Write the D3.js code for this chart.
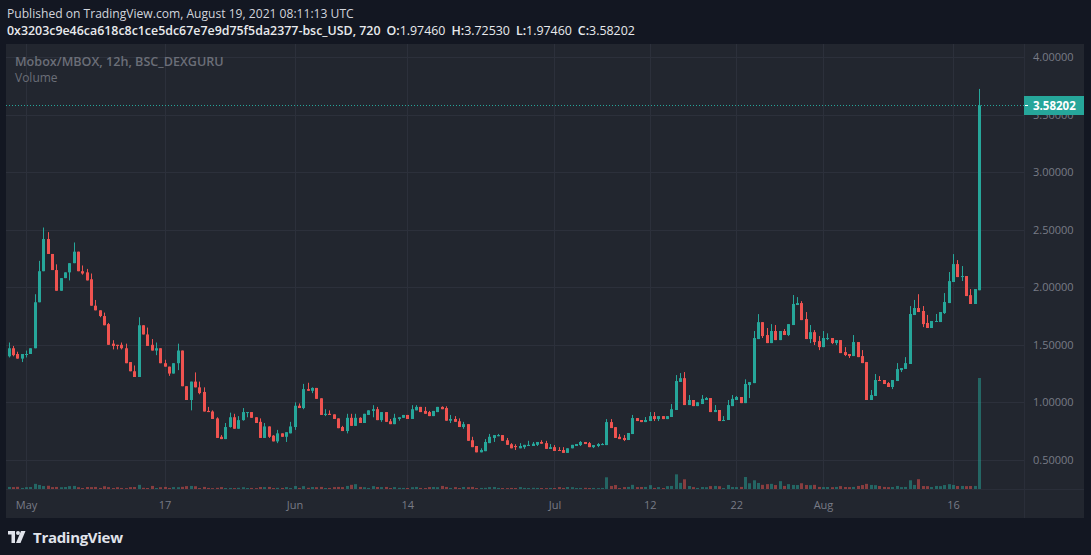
<!DOCTYPE html>
<html lang="en">
<head>
<meta charset="UTF-8">
<title>Mobox/MBOX, 12h</title>
<script src="https://d3js.org/d3.v7.min.js"></script>
<style>
    body { margin: 0; background: #131722; }
    svg { display: block; font-family: "Open Sans", sans-serif; }
    .axis path, .axis line { display: none; }
    .axis text { fill: #787b86; font-size: 11px; font-family: "Open Sans", sans-serif; }
    .grid line { stroke: #2c303b; stroke-width: 1; }
</style>
</head>
<body>
<svg width="1091" height="555"></svg>
<script>
// 12h candles, Apr 29 2021 00:00 UTC .. Aug 19 2021 00:00 UTC
const dates = d3.utcHour.every(12).range(new Date(Date.UTC(2021, 3, 29)), new Date(Date.UTC(2021, 7, 19, 1)));

const open = [
1.40,1.47,1.42,1.38,1.415,1.42,1.47,1.87,2.14,2.42,
2.29,2.15,1.97,2.08,2.13,2.21,2.31,2.14,2.13,2.07,
1.84,1.80,1.75,1.68,1.51,1.50,1.50,1.47,1.35,1.27,
1.22,1.67,1.59,1.50,1.45,1.47,1.34,1.31,1.25,1.34,
1.45,1.14,1.02,1.18,1.13,1.09,0.925,0.92,0.86,0.70,
0.68,0.785,0.87,0.77,0.845,0.91,0.915,0.87,0.83,0.69,
0.79,0.71,0.66,0.73,0.70,0.73,0.785,0.97,0.95,1.115,
1.10,1.125,1.035,0.89,0.90,0.895,0.86,0.785,0.75,0.865,
0.795,0.865,0.82,0.89,0.925,0.94,0.845,0.915,0.835,0.81,
0.855,0.865,0.89,0.855,0.93,0.96,0.925,0.915,0.88,0.915,
0.96,0.95,0.84,0.855,0.835,0.785,0.81,0.67,0.62,0.565,
0.575,0.645,0.69,0.705,0.715,0.67,0.635,0.62,0.60,0.61,
0.62,0.62,0.63,0.655,0.645,0.594,0.61,0.585,0.585,0.56,
0.60,0.62,0.628,0.655,0.645,0.61,0.62,0.628,0.628,0.828,
0.784,0.70,0.69,0.672,0.724,0.863,0.846,0.828,0.837,0.88,
0.854,0.88,0.854,0.872,0.933,1.177,1.21,0.976,1.02,0.967,
0.985,1.02,1.037,0.915,0.933,0.837,0.846,0.967,1.02,1.046,
0.993,1.15,1.167,1.55,1.697,1.585,1.515,1.62,1.541,1.62,
1.585,1.672,1.846,1.863,1.724,1.55,1.61,1.532,1.48,1.55,
1.559,1.515,1.541,1.437,1.42,1.402,1.524,1.402,1.35,1.02,
1.055,1.194,1.194,1.167,1.133,1.185,1.28,1.29,1.333,1.759,
1.82,1.794,1.69,1.646,1.70,1.698,1.776,1.863,2.046,2.202,
2.089,2.098,1.932,1.855,1.9746
];
const high = [
1.52,1.49,1.44,1.42,1.45,1.47,1.94,2.23,2.52,2.48,
2.29,2.20,2.08,2.13,2.21,2.39,2.31,2.19,2.16,2.12,
1.89,1.80,1.78,1.69,1.54,1.50,1.52,1.51,1.35,1.32,
1.74,1.67,1.65,1.55,1.52,1.47,1.37,1.31,1.34,1.51,
1.45,1.14,1.18,1.26,1.18,1.13,0.96,0.93,0.87,0.715,
0.82,0.91,0.90,0.88,0.95,0.915,0.915,0.87,0.86,0.82,
0.79,0.715,0.76,0.73,0.74,0.83,1.00,0.99,1.16,1.17,
1.13,1.125,1.035,0.94,0.93,0.895,0.86,0.795,0.90,0.90,
0.90,0.87,0.90,0.93,0.975,0.96,0.915,0.915,0.855,0.90,
0.87,0.89,0.89,0.975,0.975,0.96,0.96,0.925,0.925,0.96,
0.965,0.965,0.89,0.88,0.86,0.83,0.81,0.70,0.62,0.60,
0.68,0.725,0.715,0.725,0.715,0.69,0.645,0.635,0.645,0.63,
0.665,0.655,0.655,0.67,0.665,0.637,0.628,0.61,0.61,0.60,
0.63,0.637,0.663,0.655,0.655,0.628,0.645,0.645,0.854,0.854,
0.784,0.724,0.715,0.733,0.89,0.863,0.846,0.872,0.915,0.915,
0.88,0.88,0.88,0.985,1.237,1.254,1.263,1.063,1.02,1.003,
1.063,1.046,1.037,0.976,0.933,0.88,1.02,1.063,1.055,1.046,
1.20,1.176,1.62,1.767,1.697,1.646,1.68,1.672,1.62,1.637,
1.68,1.933,1.915,1.88,1.785,1.672,1.628,1.576,1.62,1.60,
1.559,1.541,1.541,1.48,1.42,1.585,1.524,1.454,1.35,1.107,
1.246,1.228,1.194,1.176,1.194,1.341,1.298,1.393,1.837,1.89,
1.94,1.837,1.76,1.707,1.768,1.785,1.95,2.133,2.289,2.237,
2.185,2.098,1.985,1.985,3.7253
];
const low = [
1.39,1.40,1.38,1.35,1.39,1.42,1.47,1.87,2.14,2.29,
2.15,1.97,1.97,2.08,2.06,2.21,2.14,2.11,2.06,1.84,
1.80,1.74,1.67,1.50,1.46,1.46,1.46,1.34,1.27,1.22,
1.22,1.59,1.49,1.45,1.41,1.34,1.31,1.23,1.25,1.28,
1.14,1.02,0.93,1.13,1.07,0.92,0.915,0.855,0.69,0.68,
0.68,0.78,0.77,0.77,0.84,0.87,0.865,0.82,0.69,0.69,
0.69,0.66,0.645,0.70,0.655,0.73,0.76,0.95,0.94,1.10,
1.08,1.03,0.89,0.88,0.89,0.855,0.775,0.75,0.73,0.795,
0.795,0.82,0.82,0.89,0.87,0.845,0.83,0.83,0.81,0.81,
0.84,0.865,0.855,0.855,0.93,0.915,0.90,0.88,0.88,0.915,
0.94,0.84,0.82,0.83,0.785,0.77,0.665,0.61,0.565,0.565,
0.575,0.645,0.655,0.705,0.665,0.63,0.60,0.585,0.60,0.595,
0.62,0.62,0.62,0.64,0.595,0.594,0.577,0.577,0.56,0.56,
0.60,0.62,0.62,0.637,0.61,0.602,0.61,0.628,0.628,0.776,
0.69,0.68,0.663,0.672,0.724,0.837,0.828,0.828,0.837,0.837,
0.837,0.854,0.854,0.872,0.933,1.177,0.976,0.976,0.967,0.967,
0.985,1.02,0.915,0.915,0.837,0.837,0.846,0.967,1.02,0.993,
0.993,1.037,1.167,1.55,1.559,1.515,1.515,1.541,1.541,1.585,
1.576,1.672,1.846,1.715,1.55,1.515,1.498,1.454,1.48,1.541,
1.506,1.498,1.428,1.402,1.385,1.402,1.393,1.341,1.02,1.02,
1.055,1.185,1.159,1.133,1.115,1.185,1.263,1.29,1.333,1.759,
1.785,1.654,1.646,1.646,1.698,1.698,1.768,1.863,2.046,2.089,
2.055,1.924,1.855,1.855,1.9746
];
const close = [
1.47,1.41,1.38,1.42,1.42,1.47,1.87,2.14,2.42,2.29,
2.15,1.97,2.08,2.13,2.21,2.31,2.14,2.12,2.06,1.84,
1.80,1.75,1.67,1.50,1.49,1.49,1.47,1.34,1.27,1.22,
1.67,1.59,1.49,1.45,1.47,1.34,1.31,1.25,1.34,1.45,
1.14,1.02,1.18,1.13,1.08,0.92,0.915,0.855,0.69,0.68,
0.785,0.87,0.77,0.845,0.915,0.915,0.865,0.82,0.69,0.79,
0.70,0.66,0.73,0.70,0.74,0.79,0.97,0.95,1.115,1.10,
1.125,1.03,0.89,0.90,0.89,0.855,0.775,0.75,0.865,0.795,
0.865,0.82,0.90,0.93,0.94,0.845,0.915,0.83,0.81,0.865,
0.87,0.89,0.855,0.94,0.96,0.915,0.90,0.88,0.925,0.96,
0.94,0.84,0.855,0.83,0.785,0.81,0.665,0.61,0.565,0.585,
0.655,0.70,0.715,0.715,0.665,0.63,0.60,0.61,0.62,0.63,
0.63,0.64,0.655,0.64,0.595,0.61,0.577,0.577,0.56,0.60,
0.63,0.637,0.655,0.637,0.61,0.628,0.637,0.637,0.828,0.776,
0.69,0.68,0.672,0.733,0.863,0.837,0.828,0.846,0.88,0.854,
0.88,0.854,0.88,0.94,1.185,1.21,0.976,1.02,0.967,1.00,
1.03,1.037,0.915,0.933,0.837,0.846,0.976,1.03,1.046,0.993,
1.159,1.176,1.559,1.697,1.576,1.515,1.62,1.541,1.62,1.585,
1.68,1.855,1.863,1.715,1.55,1.61,1.524,1.48,1.559,1.559,
1.515,1.541,1.428,1.411,1.402,1.524,1.393,1.341,1.02,1.063,
1.194,1.185,1.159,1.133,1.194,1.289,1.298,1.341,1.768,1.82,
1.785,1.68,1.646,1.707,1.707,1.785,1.872,2.054,2.202,2.089,
2.098,1.924,1.855,1.985,3.58202
];
const volume = [
21,19,22,11,18,20,52,41,30,33,
19,21,18,20,29,31,18,10,20,19,
21,11,28,19,10,18,11,9,19,20,
42,12,10,31,10,18,21,11,19,18,
22,29,31,28,10,21,11,9,12,19,
10,11,9,12,18,10,11,9,20,19,
21,10,12,11,19,10,30,11,29,12,
20,18,21,10,11,19,21,
19,31,42,49,21,18,11,29,20,19,
21,10,19,12,11,10,18,21,11,10,
19,20,18,31,21,11,19,10,20,18,
21,10,11,12,19,20,11,10,9,11,
10,19,11,10,12,11,10,9,11,10,
19,11,20,18,10,11,12,10,11,9,
11,118,31,40,10,19,21,42,19,20,
21,39,11,19,10,29,
31,148,62,98,30,19,11,20,18,29,
31,28,10,41,20,19,21,121,58,88,
61,42,49,52,40,79,31,49,41,40,
58,41,39,42,21,19,20,18,21,29,
20,19,21,31,40,52,41,39,30,21,
19,20,31,19,21,88,41,99,30,29,
20,31,29,40,49,41,30,31,29,30,31,
1120
];

const priceTicks = [0.5, 1.0, 1.5, 2.0, 2.5, 3.0, 3.5, 4.0];
const timeTicks = [
    new Date(Date.UTC(2021, 4, 1)), new Date(Date.UTC(2021, 4, 17)),
    new Date(Date.UTC(2021, 5, 1)), new Date(Date.UTC(2021, 5, 14)),
    new Date(Date.UTC(2021, 6, 1)), new Date(Date.UTC(2021, 6, 12)),
    new Date(Date.UTC(2021, 6, 22)), new Date(Date.UTC(2021, 7, 1)),
    new Date(Date.UTC(2021, 7, 16))
];
const timeLabels = ["May", "17", "Jun", "14", "Jul", "12", "22", "Aug", "16"];

const upColor = "#26a69a", downColor = "#ef5350";

// layout
const panel = { left: 6, top: 44, right: 1084, bottom: 518 };
const plot = { left: 6, top: 44, right: 1024, bottom: 489 };

const svg = d3.select("svg");

// scales
const x = d3.scaleTime()
    .domain([new Date(Date.UTC(2021, 3, 28, 16, 35)), new Date(Date.UTC(2021, 7, 24, 4, 50))])
    .range([plot.left, plot.right]);
const y = d3.scaleLinear().domain([0.246, 4.116]).range([plot.bottom, plot.top]);
const yVol = d3.scaleLinear().domain([0, 1120]).range([plot.bottom, plot.bottom - 111]);

// header
svg.append("text")
    .attr("x", 7).attr("y", 18)
    .attr("font-size", 12.1).attr("fill", "#d1d4dc")
    .text("Published on TradingView.com, August 19, 2021 08:11:13 UTC");

const hdr = svg.append("text")
    .attr("x", 7).attr("y", 35)
    .attr("font-size", 12.4).attr("fill", "#e8eaed");
hdr.append("tspan").attr("font-weight", 600).text("0x3203c9e46ca618c8c1ce5dc67e7e9d75f5da2377-bsc_USD, 720");
[["O:", open[open.length - 1]], ["H:", high[high.length - 1]], ["L:", low[low.length - 1]], ["C:", close[close.length - 1]]]
    .forEach(([k, v]) => {
        hdr.append("tspan").attr("dx", 6).attr("font-weight", 600).text(k);
        hdr.append("tspan").text(d3.format(".5f")(v));
    });

// panel background
svg.append("rect")
    .attr("x", panel.left).attr("y", panel.top)
    .attr("width", panel.right - panel.left).attr("height", panel.bottom - panel.top)
    .attr("fill", "#22262f");

// grid
const grid = svg.append("g").attr("class", "grid");
grid.selectAll(".h").data(priceTicks).enter().append("line")
    .attr("x1", plot.left).attr("x2", plot.right)
    .attr("y1", d => Math.round(y(d)) + 0.5).attr("y2", d => Math.round(y(d)) + 0.5);
grid.selectAll(".v").data(timeTicks).enter().append("line")
    .attr("x1", d => Math.round(x(d)) + 0.5).attr("x2", d => Math.round(x(d)) + 0.5)
    .attr("y1", plot.top).attr("y2", plot.bottom);

// separators
svg.append("line").attr("x1", plot.right + 0.5).attr("x2", plot.right + 0.5)
    .attr("y1", panel.top).attr("y2", panel.bottom).attr("stroke", "#2a2e39");
svg.append("line").attr("x1", panel.left).attr("x2", panel.right)
    .attr("y1", plot.bottom + 0.5).attr("y2", plot.bottom + 0.5).attr("stroke", "#2a2e39");

// legend
svg.append("text").attr("x", 15).attr("y", 66)
    .attr("font-size", 12.6).attr("font-weight", 600).attr("fill", "#6b6e78")
    .text("Mobox/MBOX, 12h, BSC_DEXGURU");
svg.append("text").attr("x", 15).attr("y", 82)
    .attr("font-size", 12).attr("fill", "#6b6e78")
    .text("Volume");

const candles = dates.map((d, i) => ({
    date: d, o: open[i], h: high[i], l: low[i], c: close[i], v: volume[i]
}));

// volume
svg.append("g").selectAll("rect").data(candles).enter().append("rect")
    .attr("x", d => Math.round(x(d.date)) - 1)
    .attr("width", 3)
    .attr("y", d => yVol(d.v))
    .attr("height", d => plot.bottom - yVol(d.v))
    .attr("fill", d => d.c >= d.o ? upColor : downColor)
    .attr("opacity", 0.5);

// candles
const cg = svg.append("g").selectAll("g").data(candles).enter().append("g")
    .attr("fill", d => d.c >= d.o ? upColor : downColor);
cg.append("rect")
    .attr("x", d => Math.round(x(d.date)))
    .attr("width", 1)
    .attr("y", d => y(d.h))
    .attr("height", d => Math.max(1, y(d.l) - y(d.h)));
cg.append("rect")
    .attr("x", d => Math.round(x(d.date)) - 1)
    .attr("width", 3)
    .attr("y", d => y(Math.max(d.o, d.c)))
    .attr("height", d => Math.max(1, Math.abs(y(d.o) - y(d.c))));

// axes
svg.append("g").attr("class", "axis")
    .attr("transform", `translate(${plot.right},0)`)
    .call(d3.axisRight(y).tickValues(priceTicks).tickFormat(d3.format(".5f")).tickSize(0).tickPadding(9));
svg.append("g").attr("class", "axis")
    .attr("transform", `translate(0,${plot.bottom})`)
    .call(d3.axisBottom(x).tickValues(timeTicks).tickFormat((d, i) => timeLabels[i]).tickSize(0).tickPadding(12));

// last price line + label (covers the upper half of the 3.50000 tick, as in the original)
const last = candles[candles.length - 1];
const ly = Math.round(y(last.c)) + 0.5;
svg.append("line")
    .attr("x1", plot.left).attr("x2", plot.right)
    .attr("y1", ly).attr("y2", ly)
    .attr("stroke", upColor).attr("stroke-dasharray", "1,2");
svg.append("rect")
    .attr("x", plot.right).attr("y", ly - 9.5)
    .attr("width", panel.right - plot.right).attr("height", 19)
    .attr("fill", upColor);
svg.append("line")
    .attr("x1", plot.right + 1).attr("x2", plot.right + 4)
    .attr("y1", ly).attr("y2", ly).attr("stroke", "#ffffff");
svg.append("text")
    .attr("x", plot.right + 9).attr("y", ly).attr("dy", "0.36em")
    .attr("font-size", 11.5).attr("font-weight", 700).attr("fill", "#ffffff")
    .text(d3.format(".5f")(last.c));

// TradingView logo
const logo = svg.append("g").attr("transform", "translate(8,531)").attr("fill", "#e0e3eb");
logo.append("path").attr("d", "M0,0H7V12H3.5V3.6H0Z");
logo.append("circle").attr("cx", 10).attr("cy", 2).attr("r", 2);
logo.append("path").attr("d", "M13,0H17.5L12.5,12H8Z");
svg.append("text").attr("x", 33).attr("y", 543)
    .attr("font-size", 15).attr("font-weight", 700).attr("fill", "#e0e3eb")
    .attr("letter-spacing", -0.3)
    .text("TradingView");
</script>
</body>
</html>
